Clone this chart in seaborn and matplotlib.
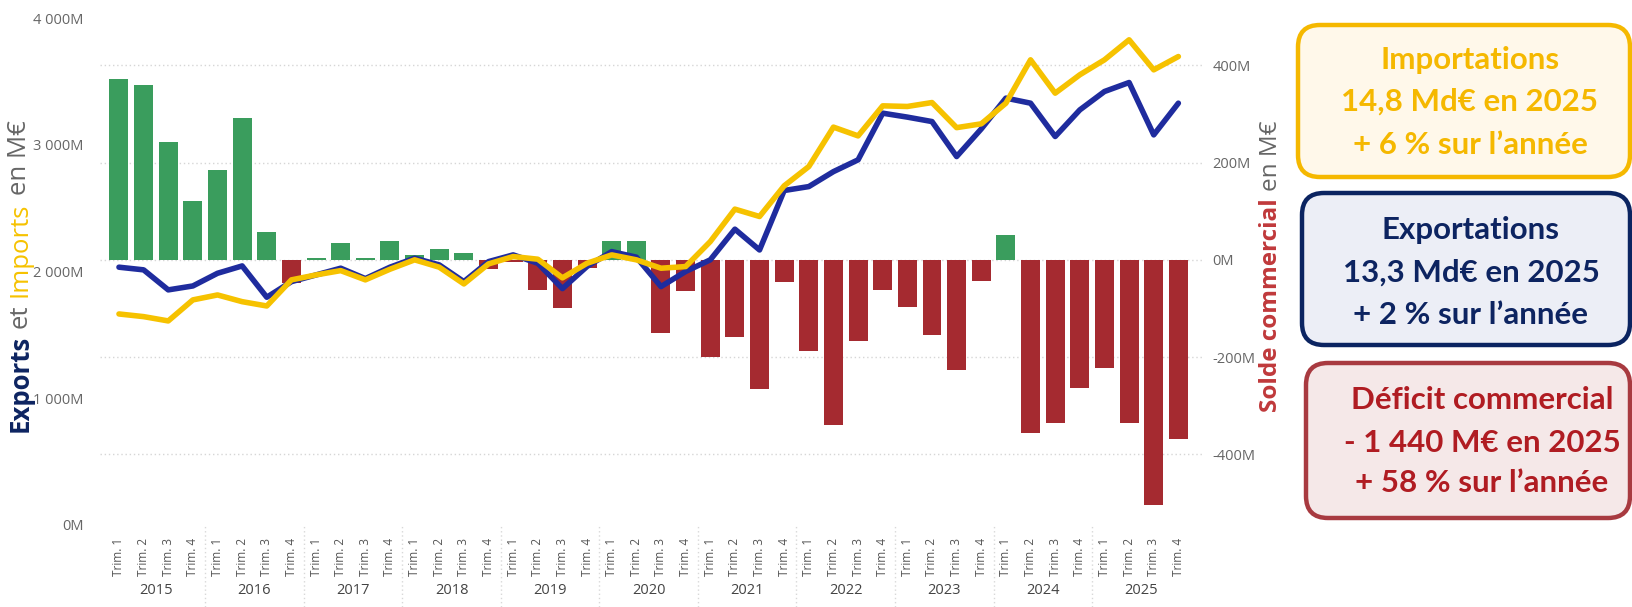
import matplotlib
matplotlib.use("Agg")
import numpy as np
import pandas as pd
import seaborn as sns
import matplotlib.pyplot as plt
import matplotlib.transforms as mtransforms
from matplotlib.patches import FancyBboxPatch
from matplotlib.ticker import FuncFormatter

# quarterly values, 2015 T1 -> 2025 T4 (M€)
years = [str(y) for y in range(2015, 2026)]
quarters = ["Trim. 1", "Trim. 2", "Trim. 3", "Trim. 4"]
exports = [2034, 2013, 1855, 1886, 1986, 2044, 1797, 1920,
           1973, 2026, 1944, 2034, 2105, 2052, 1920, 2078,
           2131, 2065, 1865, 2040, 2157, 2113, 1881, 2000,
           2092, 2334, 2170, 2639, 2670, 2788, 2881, 3249,
           3218, 3183, 2907, 3125, 3368, 3328, 3065, 3275,
           3420, 3491, 3078, 3328]
imports = [1665, 1644, 1610, 1776, 1815, 1762, 1728, 1934,
           1973, 2007, 1934, 2018, 2092, 2034, 1902, 2060,
           2118, 2097, 1950, 2065, 2131, 2092, 2026, 2039,
           2236, 2492, 2434, 2676, 2828, 3139, 3070, 3307,
           3302, 3333, 3135, 3165, 3328, 3670, 3407, 3552,
           3670, 3828, 3591, 3696]
balance = [371, 359, 242, 120, 184, 292, 58, -47,
           3, 34, 4, 38, 9, 23, 14, -19,
           -4, -62, -99, -17, 38, 38, -150, -65,
           -200, -159, -266, -45, -187, -339, -166, -63,
           -96, -154, -227, -43, 50, -356, -336, -264,
           -222, -336, -503, -368]

GREEN = "#3a9d5d"
RED = "#a52a30"
BLUE = "#1f2c9e"
GOLD = "#f6c200"
NAVY = "#0d2461"
GRAY = "#666666"

df = pd.DataFrame({
    "t": range(len(balance)),
    "year": [y for y in years for _ in quarters],
    "quarter": quarters * len(years),
    "exports": exports,
    "imports": imports,
    "balance": balance,
})
df["sign"] = np.where(df["balance"] >= 0, "surplus", "deficit")

sns.set_style("white")
plt.rcParams["font.family"] = ["Open Sans", "DejaVu Sans"]

W, H = 1633, 607
fig = plt.figure(figsize=(W / 100, H / 100), dpi=100)
ax = fig.add_axes([100 / W, (H - 525) / H, (1203 - 100) / W, 507 / H])
axb = ax.twinx()

sns.barplot(data=df, x="t", y="balance", hue="sign",
            palette={"surplus": GREEN, "deficit": RED},
            native_scale=True, width=0.77, saturation=1,
            linewidth=0, legend=False, ax=axb)
sns.lineplot(data=df, x="t", y="exports", color=BLUE, lw=4,
             solid_capstyle="round", solid_joinstyle="round", ax=ax)
sns.lineplot(data=df, x="t", y="imports", color=GOLD, lw=4,
             solid_capstyle="round", solid_joinstyle="round", ax=ax)

ax.set_zorder(axb.get_zorder() + 1)
ax.patch.set_visible(False)

ax.set_xlim(-0.77, 44.0)
ax.set_ylim(0, 4000)
axb.set_ylim(-545, 497)
ax.set_yticks([0, 1000, 2000, 3000, 4000])
axb.set_yticks([-400, -200, 0, 200, 400])
ax.yaxis.set_major_formatter(FuncFormatter(lambda v, p: f"{int(v):,}".replace(",", " ") + "M"))
axb.yaxis.set_major_formatter(FuncFormatter(lambda v, p: f"{int(v)}M"))
ax.set_xticks(df["t"])
ax.set_xticklabels(df["quarter"], rotation=90)
for a in (ax, axb):
    a.set_xlabel("")
    a.set_ylabel("")
    for s in a.spines.values():
        s.set_visible(False)
axb.yaxis.grid(True, linestyle=(0, (1, 2)), color="#d6d6d6", lw=1)
ax.tick_params(axis="y", length=0, pad=12, labelsize=10.5, labelcolor=GRAY)
axb.tick_params(axis="y", length=0, pad=7, labelsize=10.5, labelcolor=GRAY)
ax.tick_params(axis="x", length=0, pad=9, labelsize=8.5, labelcolor="#555555")

trans = mtransforms.blended_transform_factory(ax.transData, fig.transFigure)
for k, y in enumerate(years):
    ax.text(4 * k + 1.5, 17 / H, y, transform=trans, ha="center", va="center",
            fontsize=10.5, color="#444444")
    if k > 0:
        ax.plot([4 * k - 0.5] * 2, [0, 82 / H], transform=trans, ls=(0, (1, 2)),
                color="#d8d8d8", lw=1, clip_on=False)

# overlay in pixel coordinates for boxes and axis titles
ov = fig.add_axes([0, 0, 1, 1])
ov.set_xlim(0, W)
ov.set_ylim(H, 0)
ov.axis("off")

boxes = [
    (1298, 25, 177, "#f5b800", "#fff8ea", "#f5b800", 1470,
     ["Importations", "14,8 Md€ en 2025", "+ 6 % sur l’année"], [60, 102, 145]),
    (1302, 193, 345, "#0b2461", "#eceef6", NAVY, 1471,
     ["Exportations", "13,3 Md€ en 2025", "+ 2 % sur l’année"], [230, 273, 315]),
    (1306, 363, 518, "#a83a40", "#f5e8e8", "#b01c22", 1482,
     ["Déficit commercial", "- 1 440 M€ en 2025", "+ 58 % sur l’année"], [400, 443, 483]),
]
for x0, y0, y1, ec, fc, tc, cx, lines, ys in boxes:
    ov.add_patch(FancyBboxPatch((x0, y0), 1630 - x0, y1 - y0,
                                boxstyle="round,pad=0,rounding_size=22",
                                fc=fc, ec=ec, lw=3.2))
    for line, ty in zip(lines, ys):
        ov.text(cx, ty, line, ha="center", va="center", fontsize=22.5,
                fontweight="bold", color=tc, family=["Lato", "DejaVu Sans"])


def vertical_title(x, y0, parts, size):
    r = fig.canvas.get_renderer()
    gap = size * 0.28 * 100 / 72
    y = y0
    for text, color, weight in parts:
        t = ov.text(x, y, text, rotation=90, ha="center", va="bottom",
                    fontsize=size, color=color, fontweight=weight)
        y -= t.get_window_extent(renderer=r).height + gap


vertical_title(20, 432, [("Exports", NAVY, "bold"), ("et", GRAY, "normal"),
                         ("Imports", GOLD, "normal"), ("en M€", GRAY, "normal")], 18.5)
vertical_title(1271, 412, [("Solde commercial", "#c0393b", "bold"),
                           ("en M€", GRAY, "normal")], 17.5)

fig.savefig("out.png", dpi=100)
